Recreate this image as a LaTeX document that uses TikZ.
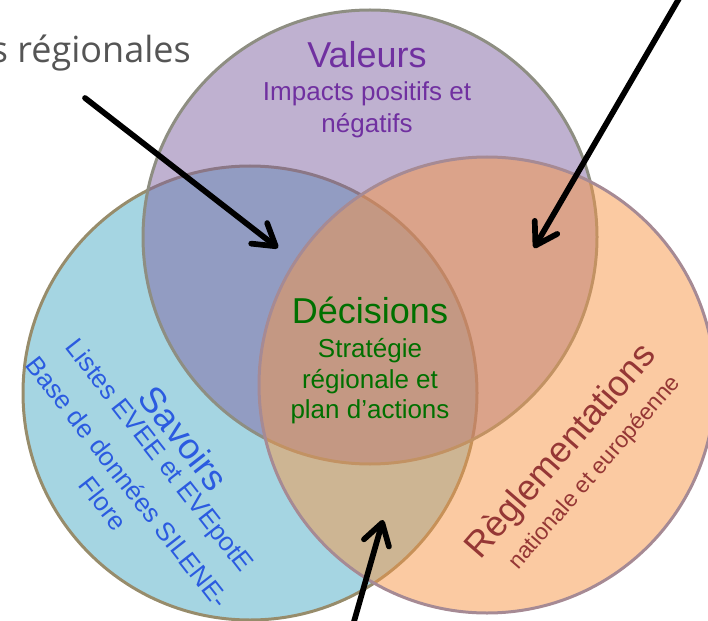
\documentclass[tikz,border=0pt]{standalone}
\usepackage{fontspec}
\setmainfont{Liberation Sans}
\newfontfamily\gillfont{Open Sans}
\usetikzlibrary{arrows.meta}
\definecolor{blueC}{HTML}{4BACC6}
\definecolor{purpleC}{HTML}{8064A2}
\definecolor{orangeC}{HTML}{F79646}
\definecolor{blueE}{HTML}{978C6B}
\definecolor{purpleE}{HTML}{8E8E82}
\definecolor{orangeE}{HTML}{A68A94}
\definecolor{valT}{HTML}{7030A0}
\definecolor{decT}{HTML}{007000}
\definecolor{savT}{HTML}{2B5BE0}
\definecolor{regT}{HTML}{953735}
\definecolor{greyT}{HTML}{555555}
\tikzset{
  venn/.style={circle, inner sep=0pt, outer sep=0pt, line width=3pt, fill opacity=0.5},
  big/.style={font=\fontsize{36}{43}\selectfont, inner sep=0pt},
  small/.style={font=\fontsize{26}{31}\selectfont, inner sep=0pt},
  smaller/.style={font=\fontsize{23}{28}\selectfont, inner sep=0pt},
  arr/.style={line width=5.7pt, line cap=round, -{Straight Barb[length=21pt,width=26pt,round]}},
}
\begin{document}
\begin{tikzpicture}[x=1pt,y=-1pt]
\useasboundingbox (0,0) rectangle (708,620);
% circles
\node[venn, fill=blueC, draw=blueE, minimum size=454pt] (sav) at (250,393) {};
\node[venn, fill=purpleC, draw=purpleE, minimum size=454pt] (val) at (370,237) {};
\node[venn, fill=orangeC, draw=orangeE, minimum size=456pt] (reg) at (487,385) {};
% Valeurs
\node[big, text=valT, anchor=base] (valt) at (367,68) {Valeurs};
\node[small, text=valT, anchor=base] (vals1) at (367,101) {Impacts positifs et};
\node[small, text=valT, anchor=base] (vals2) at (367,133) {négatifs};
% Decisions
\node[big, text=decT, anchor=base] (dect) at (370,323) {Décisions};
\node[small, text=decT, anchor=base] (decs1) at (370,357) {Stratégie};
\node[small, text=decT, anchor=base] (decs2) at (370,388) {régionale et};
\node[small, text=decT, anchor=base] (decs3) at (370,418) {plan d’actions};
% Savoirs
\node[big, text=savT, rotate=-52] (savt) at (184,438) {Savoirs};
\node[small, text=savT, rotate=-52] (savs1) at (158,456.5) {Listes EVEE et EVEpotE};
\node[small, text=savT, rotate=-52] (savs2) at (128,482) {Base de données SILENE-};
\node[small, text=savT, rotate=-52] (savs3) at (103.5,503.5) {Flore};
% Reglementations
\node[big, text=regT, rotate=49] (regt) at (562,452) {Règlementations};
\node[smaller, text=regT, rotate=49] (regs) at (595,473) {nationale et européenne};
% top-left text
\node[font=\gillfont\fontsize{36}{42}\selectfont, text=greyT, anchor=base east, inner sep=0pt] (reg2) at (191,63) {s régionales};
% arrows
\coordinate (a1s) at (85,98);
\coordinate (a1e) at (278,248);
\coordinate (a2s) at (684,-10);
\coordinate (a2e) at (534,248);
\coordinate (a3s) at (353,625);
\coordinate (a3e) at (383,520);
\draw[arr] (a1s) -- (a1e);
\draw[arr] (a2s) -- (a2e);
\draw[arr] (a3s) -- (a3e);
\end{tikzpicture}
\end{document}
